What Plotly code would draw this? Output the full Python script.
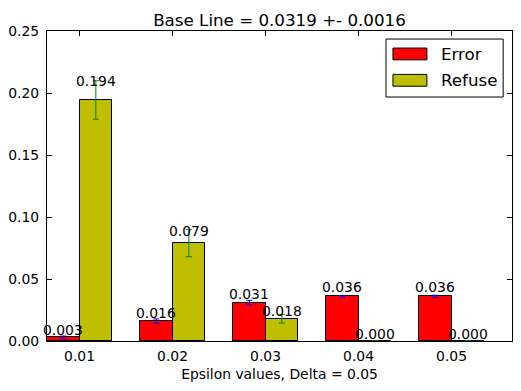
import numpy as np
import plotly.graph_objects as go

categories = ["0.01", "0.02", "0.03", "0.04", "0.05"]
error_vals = [0.003, 0.016, 0.031, 0.036, 0.036]
error_std = [0.001, 0.0018, 0.0018, 0.0007, 0.0009]
refuse_vals = [0.1944, 0.079, 0.018, 0.0, 0.0]
refuse_std = [0.0155, 0.011, 0.0035, 0.0, 0.0]
y_ticks = [0.0, 0.05, 0.10, 0.15, 0.20, 0.25]

width = 0.35
ind = np.arange(len(categories))
FONT = "DejaVu Sans"
BASE = 13.9
LARGE = 16.7

fig = go.Figure()
fig.add_trace(go.Bar(
    x=ind + width / 2, y=error_vals, width=width, name="Error",
    marker=dict(color="#ff0000", line=dict(color="black", width=1)),
    error_y=dict(type="data", array=error_std, color="blue", thickness=1, width=3),
    showlegend=False))
fig.add_trace(go.Bar(
    x=ind + width * 1.5, y=refuse_vals, width=width, name="Refuse",
    marker=dict(color="#bfbf00", line=dict(color="black", width=1)),
    error_y=dict(type="data", array=refuse_std, color="green", thickness=1, width=3),
    showlegend=False))

annotations = []
for xs, vals in ((ind + width / 2, error_vals), (ind + width * 1.5, refuse_vals)):
    for x, v in zip(xs, vals):
        annotations.append(dict(x=x, y=1.05 * v, text="%.3f" % v, showarrow=False,
                                xanchor="center", yanchor="bottom",
                                font=dict(family=FONT, size=BASE, color="black"),
                                xref="x", yref="y", yshift=-3))

# manual legend (matplotlib-style wide patches)
shapes = [dict(type="rect", xref="paper", yref="paper", x0=0.729, x1=0.981,
               y0=0.787, y1=0.974, line=dict(color="black", width=1),
               fillcolor="white", layer="above")]
for i, (lab, col) in enumerate((("Error", "#ff0000"), ("Refuse", "#bfbf00"))):
    yc = 0.926 - i * 0.085
    shapes.append(dict(type="rect", xref="paper", yref="paper",
                       x0=0.744, x1=0.817, y0=yc - 0.019, y1=yc + 0.019,
                       line=dict(color="black", width=1), fillcolor=col, layer="above"))
    annotations.append(dict(x=0.843, y=yc, xref="paper", yref="paper", text=lab,
                            showarrow=False, xanchor="left", yanchor="middle",
                            font=dict(family=FONT, size=LARGE, color="black")))

fig.update_layout(
    width=521, height=391,
    margin=dict(l=47, r=9, t=31, b=50, autoexpand=False),
    paper_bgcolor="white", plot_bgcolor="white",
    barmode="overlay", bargap=0,
    font=dict(family=FONT, size=BASE, color="black"),
    title=dict(text="Base Line = 0.0319 +- 0.0016", x=0.5, xref="paper",
               y=1, yref="paper", yanchor="bottom", pad=dict(b=5), automargin=False,
               font=dict(family=FONT, size=LARGE, color="black")),
    annotations=annotations, shapes=shapes,
)
fig.update_xaxes(range=[0, len(categories)], tickvals=ind + width, ticktext=categories,
                 showgrid=False, zeroline=False, showline=True, linecolor="black",
                 linewidth=1, mirror="allticks", ticks="inside", ticklen=5,
                 tickcolor="black", automargin=False, ticklabelstandoff=2,
                 tickfont=dict(family=FONT, size=BASE, color="black"),
                 title=dict(text="Epsilon values, Delta = 0.05", standoff=6,
                            font=dict(family=FONT, size=BASE, color="black")))
fig.update_yaxes(range=[0, 0.25], tickvals=y_ticks, tickformat=".2f",
                 showgrid=False, zeroline=False, showline=True, linecolor="black",
                 linewidth=1, mirror="allticks", ticks="inside", ticklen=5,
                 tickcolor="black", automargin=False, ticklabelstandoff=4,
                 tickfont=dict(family=FONT, size=BASE, color="black"))

fig.write_html("out.html", config={"displayModeBar": False},
               post_script="document.body.style.margin='0';document.body.style.overflow='hidden';")
